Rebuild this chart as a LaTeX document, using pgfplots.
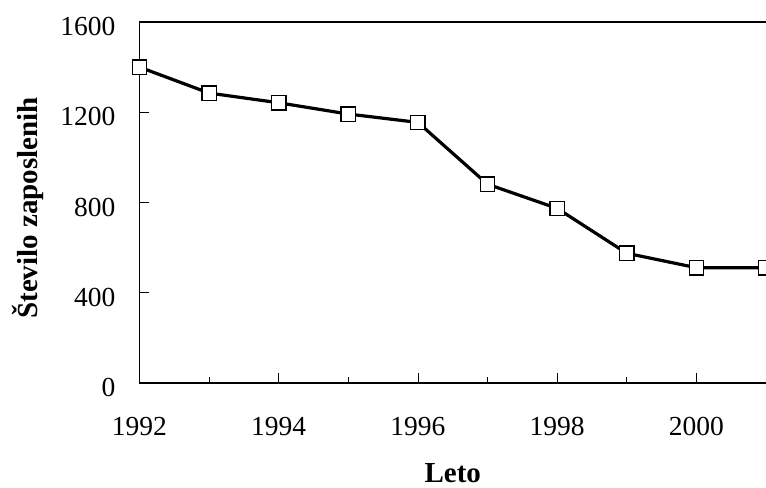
\documentclass[border=0pt]{standalone}
\usepackage{fontspec}
\setmainfont{Liberation Serif}
\usepackage{pgfplots}
\pgfplotsset{compat=1.18}
\begin{document}
\begin{tikzpicture}
\begin{axis}[
  scale only axis,
  width=626.5bp, height=361bp,
  xmin=1992, xmax=2001,
  ymin=0, ymax=1600,
  clip=false,
  axis line style={draw=none},
  tick pos=left,
  tick align=inside,
  major tick length=10bp,
  minor tick length=6bp,
  every tick/.style={black, line width=0.8bp},
  xtick={1992,1994,1996,1998,2000},
  minor xtick={1993,1995,1997,1999,2001},
  ytick={0,400,800,1200,1600},
  /pgf/number format/assume math mode=true,
  /pgf/number format/set thousands separator={},
  tick label style={font=\fontsize{27.5bp}{33bp}\selectfont},
  yticklabel style={anchor=east, inner sep=0pt, xshift=-24bp, yshift=-4.5bp},
  xticklabel style={anchor=north, inner sep=0pt, yshift=-34bp},
  xlabel={Leto},
  ylabel={Število zaposlenih},
  label style={font=\fontsize{29bp}{35bp}\selectfont\bfseries},
  xlabel style={at={(axis description cs:0.5,-0.276)}, anchor=base, inner sep=0pt},
  ylabel style={at={(axis description cs:-0.1772,0.4848)}, anchor=center, rotate=0, inner sep=0pt},
]
\coordinate (ll) at (rel axis cs:0,0);
\coordinate (ur) at (rel axis cs:1,1);
\draw[black, line width=1.3bp] (rel axis cs:0,1) -- (rel axis cs:0,0) -- (rel axis cs:1,0);
\draw[black, line width=1.3bp] (rel axis cs:0,1) -- (rel axis cs:1,1);
\addplot[black, line width=3.2bp, mark=square*, mark size=7.2bp,
  mark options={fill=white, draw=black, line width=1.3bp, solid}]
  coordinates {
  (1992,1400) (1993,1285) (1994,1242) (1995,1192) (1996,1155)
  (1997,881) (1998,774) (1999,575) (2000,511) (2001,511)
  };
\end{axis}
\pgfresetboundingbox
\useasboundingbox ([xshift=-139.5bp,yshift=-105bp]ll) rectangle ([yshift=22bp]ur);
\end{tikzpicture}
\end{document}
